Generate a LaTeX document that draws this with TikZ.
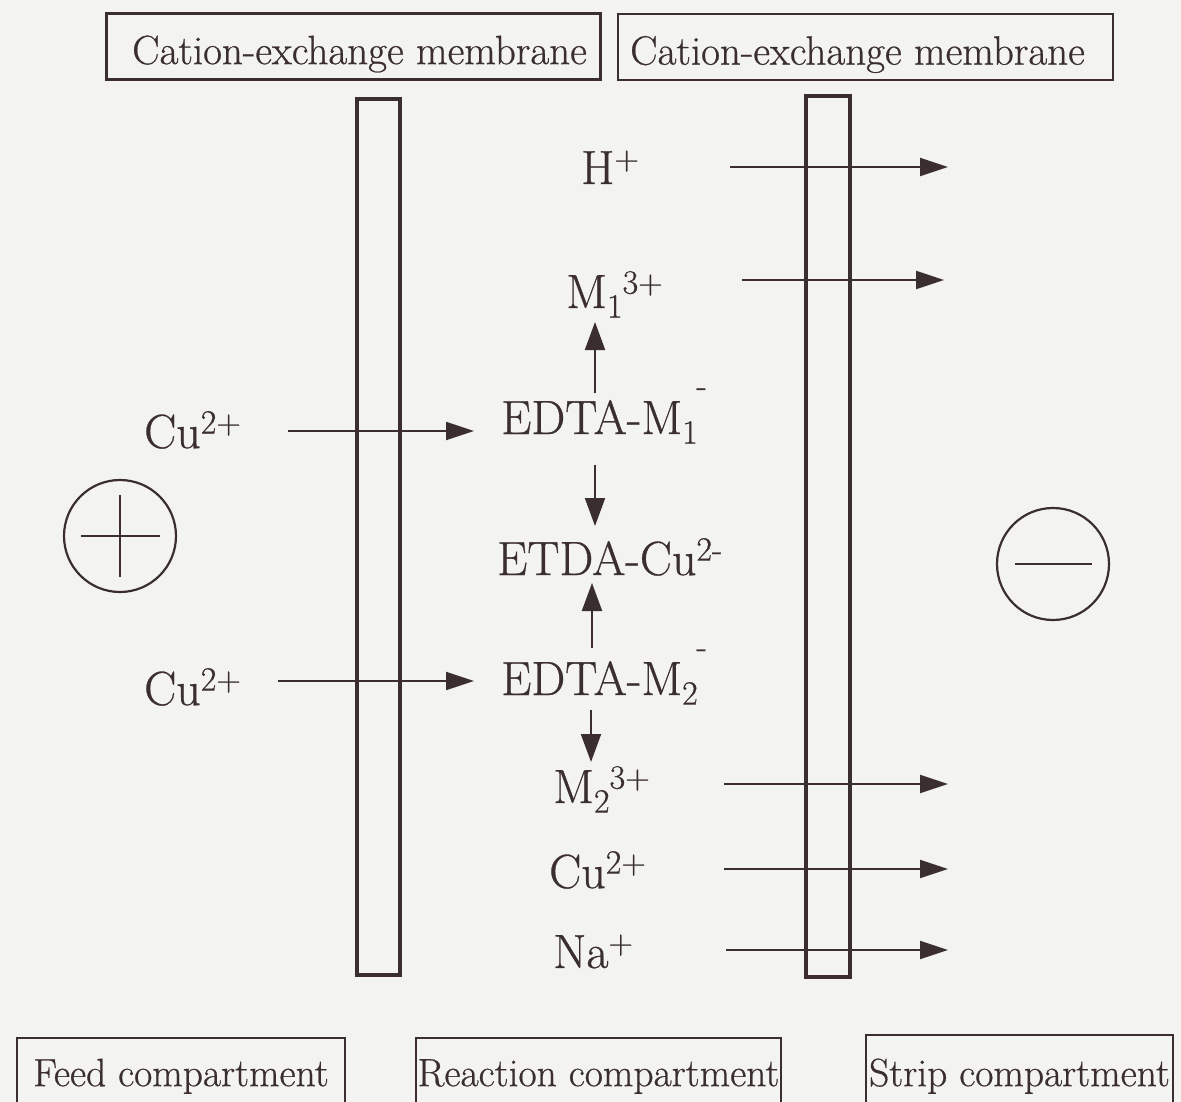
\documentclass[tikz,border=0pt]{standalone}
\usepackage{fontspec}
\setmainfont{Latin Modern Roman}[FakeBold=0.6]
\usetikzlibrary{arrows.meta}
\definecolor{ink}{RGB}{58,46,48}
\definecolor{paper}{RGB}{243,243,241}
\newcommand{\supx}[1]{\raisebox{0.3em}{\fontsize{34}{34}\selectfont #1}}
\newcommand{\subx}[1]{\raisebox{-0.2em}{\fontsize{34}{34}\selectfont #1}}
\newcommand{\dashover}[1]{\rlap{\hspace*{0.3em}\raisebox{0.78em}{\fontsize{34}{34}\selectfont -}}\subx{#1}}
\begin{document}
\begin{tikzpicture}[x=1pt,y=-1pt,
  toplbl/.style={text=ink, font=\fontsize{41}{48}\selectfont, draw=ink, line width=2.3pt, inner xsep=0pt, inner ysep=0pt, anchor=north},
  botlbl/.style={text=ink, font=\fontsize{39.5}{46}\selectfont, draw=ink, line width=2.3pt, inner xsep=0pt, inner ysep=0pt, anchor=north},
  ion/.style={text=ink, font=\fontsize{48}{56}\selectfont, anchor=base west, inner sep=0pt},
  flux/.style={draw=ink, line width=2pt, -{Triangle[length=28pt,width=18pt]}},
  react/.style={draw=ink, line width=2pt, -{Triangle[length=28pt,width=20pt]}},
  membrane/.style={draw=ink, line width=4.5pt, inner sep=0pt},
  electrode/.style={draw=ink, line width=2.2pt, circle, minimum size=112pt, inner sep=0pt},
  sign/.style={draw=ink, line width=2pt}
]
\useasboundingbox (0,0) rectangle (1181,1102);
\fill[paper] (0,0) rectangle (1181,1102);
\clip (0,0) rectangle (1181,1102);

% membrane labels
\node[toplbl, minimum width=494pt, text height=50.5pt, text depth=15.5pt] (cem1) at (353.5,12.5) {\hspace*{12pt}Cation-exchange membrane};
\node[toplbl, minimum width=495pt, text height=50.5pt, text depth=15.5pt] (cem2) at (865.5,13) {Cation-exchange membrane\hspace*{16pt}};

% membranes
\node[membrane, minimum width=43pt, minimum height=876pt] (mem1) at (378.5,537) {};
\node[membrane, minimum width=44pt, minimum height=881pt] (mem2) at (828,536.5) {};

% electrodes
\node[electrode] (anode) at (120,536) {};
\draw[sign] ([xshift=-39pt]anode.center) -- ([xshift=40pt]anode.center);
\draw[sign] ([yshift=41pt]anode.center) -- ([yshift=-41pt]anode.center);
\node[electrode] (cathode) at (1053,564) {};
\draw[sign] ([xshift=-38pt]cathode.center) -- ([xshift=39pt]cathode.center);

% ions
\node[ion] (h)   at (581,184) {H\supx{+}};
\node[ion] (m1)  at (566,308) {M\subx{1}\supx{3+}};
\node[ion] (cu1) at (144,448) {Cu\supx{2+}};
\node[ion] (em1) at (501,434) {EDTA-M\dashover{1}};
\node[ion] (ecu) at (497,575) {ETDA-Cu\supx{2-}};
\node[ion] (cu2) at (144,705) {Cu\supx{2+}};
\node[ion] (em2) at (501,695) {EDTA-M\dashover{2}};
\node[ion] (m2)  at (553,803) {M\subx{2}\supx{3+}};
\node[ion] (cu3) at (549,888) {Cu\supx{2+}};
\node[ion] (na)  at (553,968) {Na\supx{+}};

% flux arrow end points
\coordinate (hS) at (730,167);  \coordinate (hE) at (948,167);
\coordinate (m1S) at (742,280); \coordinate (m1E) at (944,280);
\coordinate (c1S) at (288,431); \coordinate (c1E) at (474,431);
\coordinate (c2S) at (278,681); \coordinate (c2E) at (474,681);
\coordinate (m2S) at (724,784); \coordinate (m2E) at (948,784);
\coordinate (c3S) at (724,869); \coordinate (c3E) at (948,869);
\coordinate (naS) at (726,950); \coordinate (naE) at (948,950);

\draw[flux] (hS) -- (hE);
\draw[flux] (m1S) -- (m1E);
\draw[flux] (c1S) -- (c1E);
\draw[flux] (c2S) -- (c2E);
\draw[flux] (m2S) -- (m2E);
\draw[flux] (c3S) -- (c3E);
\draw[flux] (naS) -- (naE);

% reaction arrows
\coordinate (r1S) at (595,393); \coordinate (r1E) at (595,322);
\coordinate (r2S) at (595,465); \coordinate (r2E) at (595,526);
\coordinate (r3S) at (592,648); \coordinate (r3E) at (592,583);
\coordinate (r4S) at (591,710); \coordinate (r4E) at (591,762);
\draw[react] (r1S) -- (r1E);
\draw[react] (r2S) -- (r2E);
\draw[react] (r3S) -- (r3E);
\draw[react] (r4S) -- (r4E);

% compartment labels
\node[botlbl, minimum width=328pt, text height=48pt, text depth=40pt] (feed) at (181,1037) {Feed compartment};
\node[botlbl, minimum width=365pt, text height=48pt, text depth=40pt] (reac) at (598.5,1037) {Reaction compartment};
\node[botlbl, minimum width=307pt, text height=51pt, text depth=40pt] (strip) at (1019.5,1034) {Strip compartment};
\end{tikzpicture}
\end{document}
